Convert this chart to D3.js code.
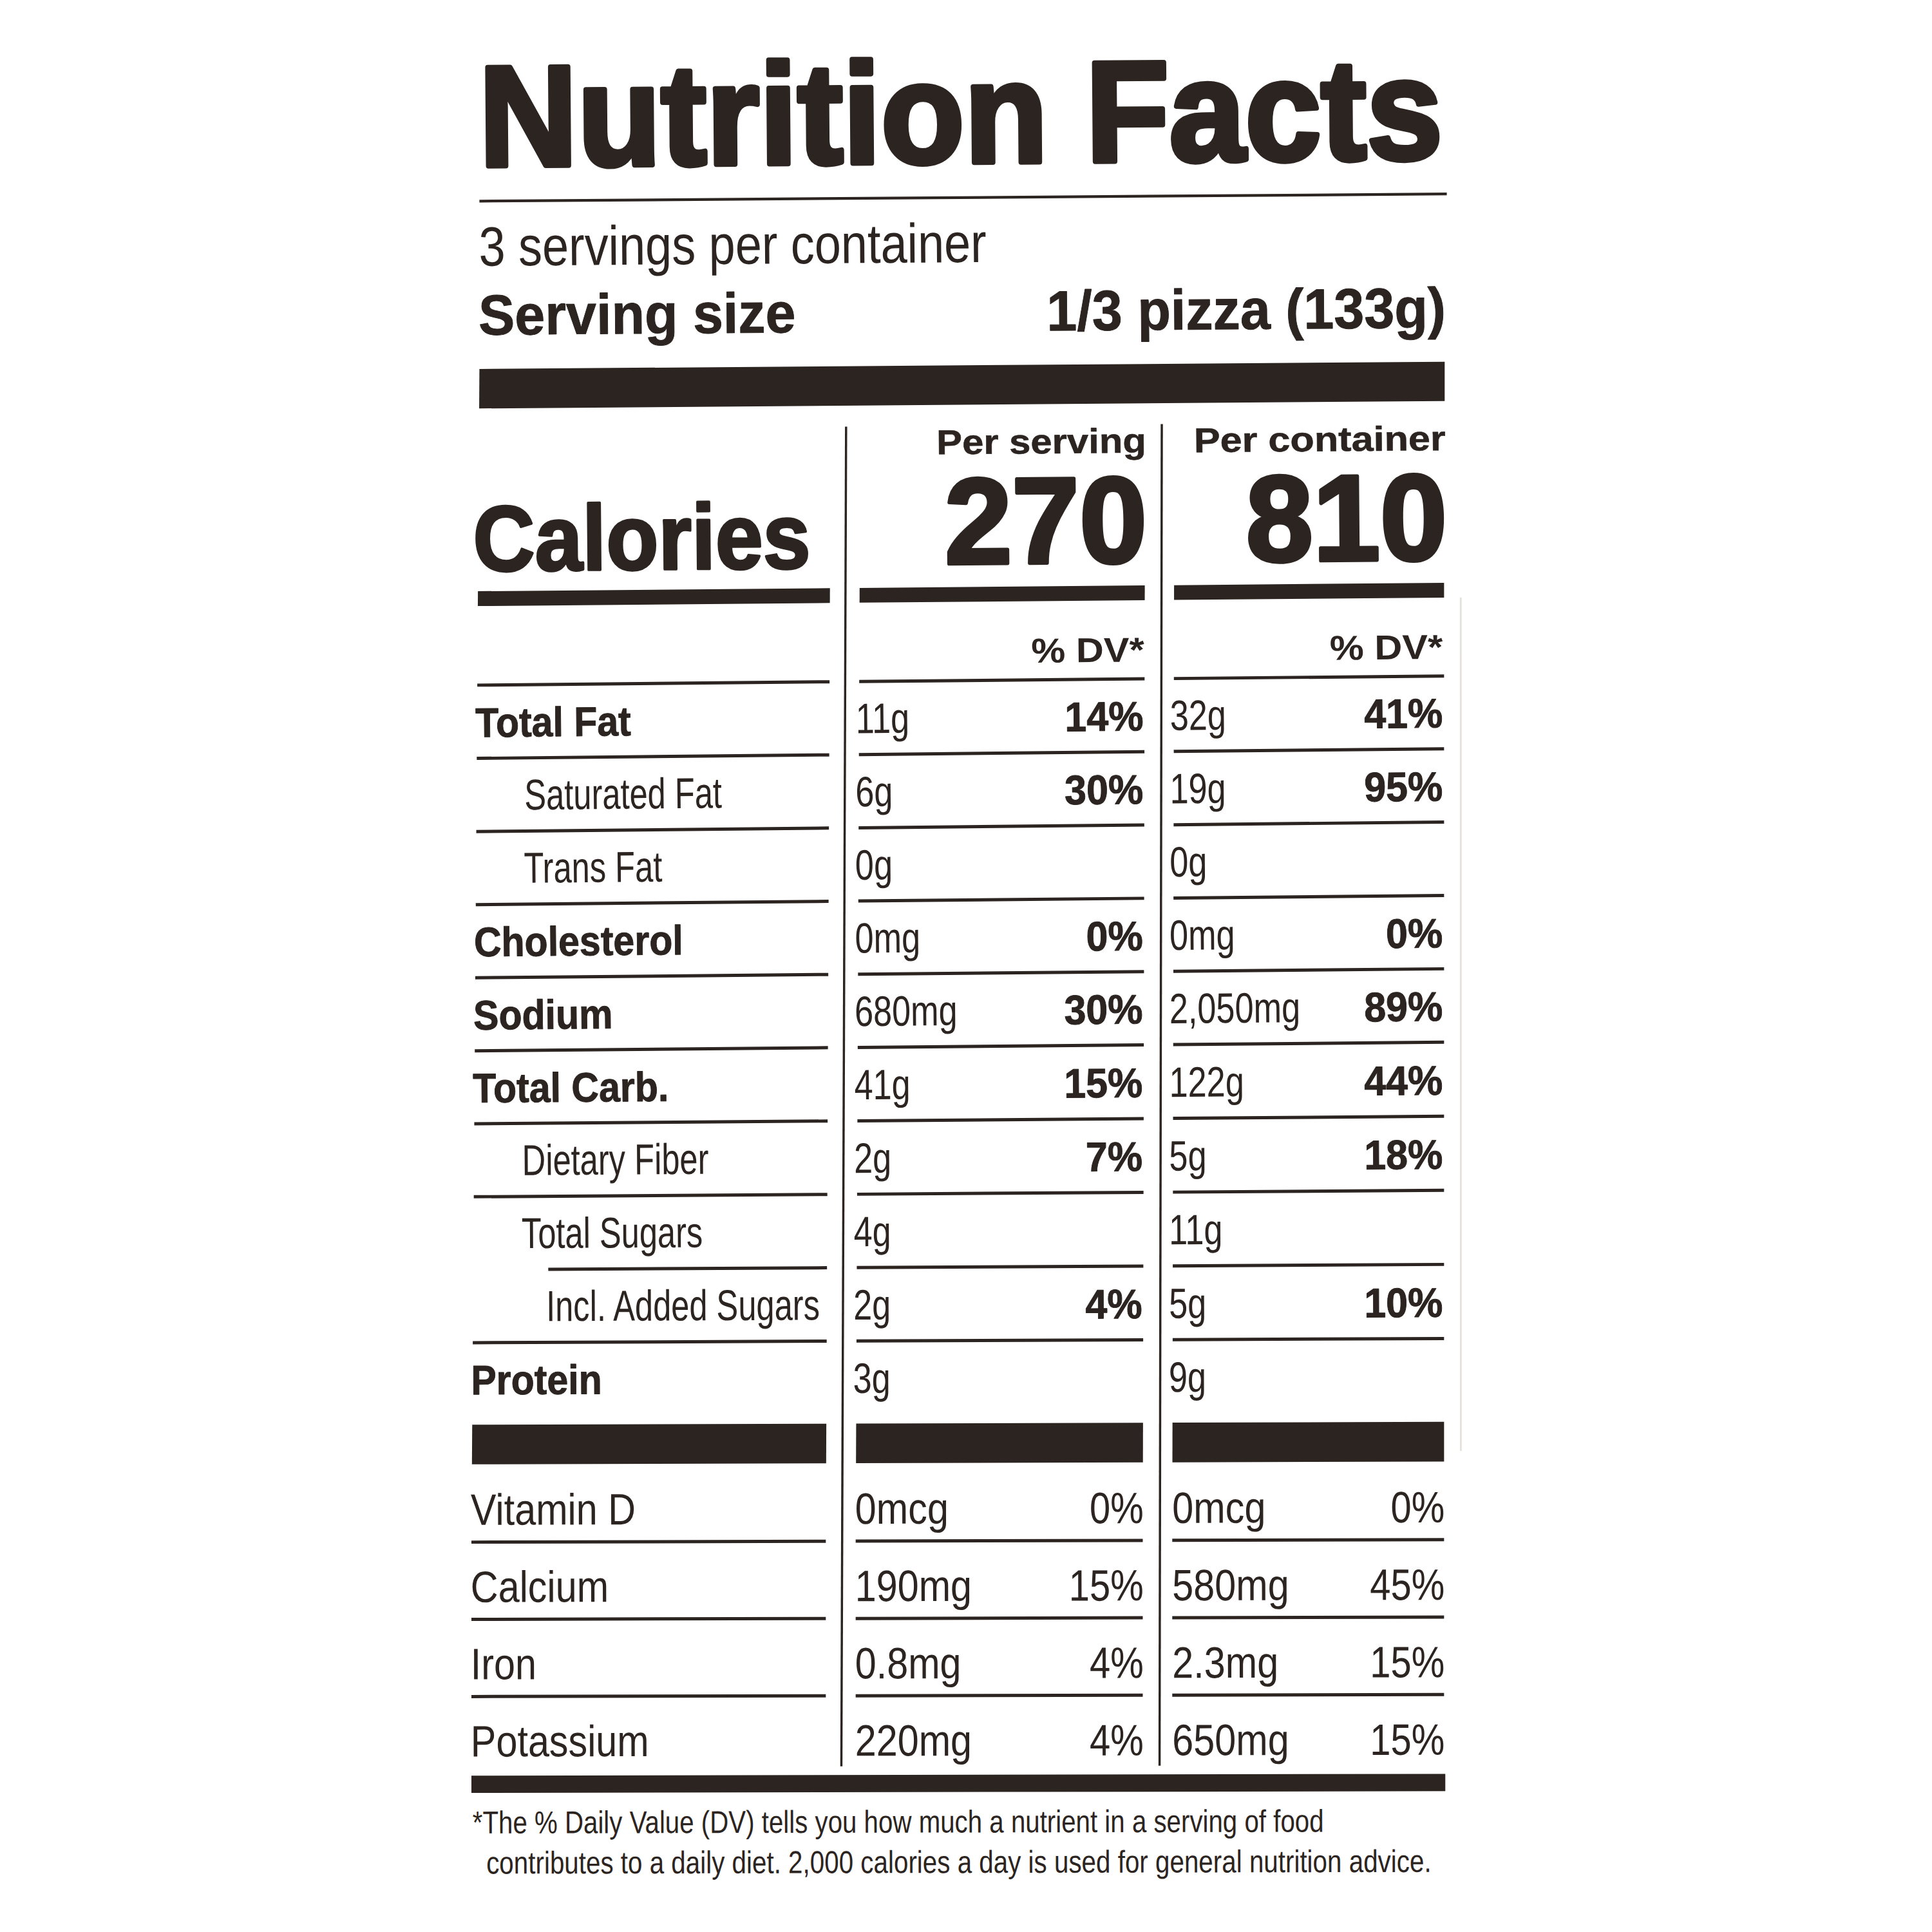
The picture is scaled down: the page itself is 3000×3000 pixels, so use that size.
<!DOCTYPE html>
<html>
<head>
<meta charset="utf-8">
<script src="https://cdn.jsdelivr.net/npm/d3@7/dist/d3.min.js"></script>
<style>html,body{margin:0;padding:0;background:#fff}</style>
</head>
<body>
<svg id="chart"></svg>
<script>
// ---------------- DATA ----------------
const title = "Nutrition Facts";
const servingsPerContainer = "3 servings per container";
const servingSizeLabel = "Serving size";
const servingSizeValue = "1/3 pizza (133g)";
const columnHeaders = ["Per serving", "Per container"];
const caloriesLabel = "Calories";
const calories = [270, 810];
const dvHeader = "% DV*";

const nutrients = ["Total Fat", "Saturated Fat", "Trans Fat", "Cholesterol", "Sodium",
                   "Total Carb.", "Dietary Fiber", "Total Sugars", "Incl. Added Sugars", "Protein"];
const nutrientLevel = [0, 1, 1, 0, 0, 0, 1, 1, 2, 0];
const perServingAmount = ["11g", "6g", "0g", "0mg", "680mg", "41g", "2g", "4g", "2g", "3g"];
const perServingDV = ["14%", "30%", "", "0%", "30%", "15%", "7%", "", "4%", ""];
const perContainerAmount = ["32g", "19g", "0g", "0mg", "2,050mg", "122g", "5g", "11g", "5g", "9g"];
const perContainerDV = ["41%", "95%", "", "0%", "89%", "44%", "18%", "", "10%", ""];

const vitamins = ["Vitamin D", "Calcium", "Iron", "Potassium"];
const vitServingAmount = ["0mcg", "190mg", "0.8mg", "220mg"];
const vitServingDV = ["0%", "15%", "4%", "4%"];
const vitContainerAmount = ["0mcg", "580mg", "2.3mg", "650mg"];
const vitContainerDV = ["0%", "45%", "15%", "15%"];

const footnote = [
  "*The % Daily Value (DV) tells you how much a nutrient in a serving of food",
  "contributes to a daily diet. 2,000 calories a day is used for general nutrition advice."
];

// ---------------- SETUP ----------------
const INK = "#2b2420";
const FONT = "'Liberation Sans', Arial, Helvetica, sans-serif";
const V = 1566;
const svg = d3.select("#chart").attr("width", 3000).attr("height", 3000)
  .attr("viewBox", `0 0 ${V} ${V}`);
svg.append("rect").attr("width", V).attr("height", V).attr("fill", "#fff");
const g = svg.append("g");

// slight photographic distortion of the label
const slope = d3.scaleLinear().domain([160, 300, 480, 600, 850, 1155, 1440])
  .range([-0.0074, -0.0075, -0.0087, -0.0100, -0.0090, -0.0030, -0.0018]).clamp(true);
const shift = d3.scaleLinear().domain([300, 1250]).range([0, -6.5]).clamp(true);
const RIGHT = 1171, SPAN = 783, PIVOT = 530;
function warp(x, y) { return [x + shift(y) * (RIGHT - x) / SPAN, y + slope(y) * (x - PIVOT)]; }
function ang(y) { return Math.atan(slope(y)) * 180 / Math.PI; }

function txt(str, x, y, o) {
  const p = warp(x, y);
  const t = g.append("text")
    .attr("transform", `translate(${p[0].toFixed(2)},${p[1].toFixed(2)}) rotate(${ang(y).toFixed(3)}) scale(${o.sx || 1},1)`)
    .attr("font-family", FONT).attr("font-size", o.size)
    .attr("font-weight", o.bold ? "bold" : "normal")
    .attr("text-anchor", o.anchor || "start").attr("fill", INK).text(str);
  if (o.len) t.attr("textLength", o.len).attr("lengthAdjust", "spacingAndGlyphs");
  if (o.stroke) t.attr("stroke", INK).attr("stroke-width", o.stroke).attr("stroke-linejoin", "round");
  return t;
}
function line(x1, y1, x2, y2, w, color) {
  const a = warp(x1, y1), b = warp(x2, y2);
  g.append("path").attr("d", `M${a[0]},${a[1]}L${b[0]},${b[1]}`)
    .attr("stroke", color || INK).attr("stroke-width", w).attr("fill", "none");
}
function bar(x0, y0, x1, y1) {
  const pts = [warp(x0, y0), warp(x1, y0), warp(x1, y1), warp(x0, y1)];
  g.append("path").attr("d", "M" + pts.map(p => p.join(",")).join("L") + "Z").attr("fill", INK);
}

// column layout
const col = {
  label: { x0: 388.6, x1: 673.5 },
  serving: { x0: 697.5, x1: 928.3, val: 695, dv: 927.5 },
  container: { x0: 952, x1: 1170.5, val: 949, dv: 1169.5 }
};
const indentX = [387.5, 427.5, 447.6];

// ---------------- HEADER ----------------
txt(title, 388.5, 133.5, { size: 116, bold: true, len: 781, stroke: 4.2 });
line(388.6, 162, 1172.7, 162, 2.2);
txt(servingsPerContainer, 388.2, 214.4, { size: 45, len: 411.5 });
txt(servingSizeLabel, 388, 270.3, { size: 46, bold: true, len: 257, stroke: 0.5 });
txt(servingSizeValue, 1172, 270.3, { size: 46, bold: true, anchor: "end", len: 323.5, stroke: 0.5 });
bar(388.6, 298, 1171, 330);

// vertical rules
line(686, 347, 686, 1432, 1.8);
line(941.8, 347, 941.8, 1432, 1.8);
line(1184, 490, 1184, 1178, 1.4, "#e4e0dc");

// calories block
txt(columnHeaders[0], 929.3, 370, { size: 28, bold: true, anchor: "end", len: 170, stroke: 0.3 });
txt(columnHeaders[1], 1171.8, 370, { size: 28, bold: true, anchor: "end", len: 204, stroke: 0.3 });
txt(caloriesLabel, 384.8, 461.5, { size: 75, bold: true, len: 273.5, stroke: 2 });
txt(String(calories[0]), 930.2, 459, { size: 99, bold: true, anchor: "end", len: 164, stroke: 3 });
txt(String(calories[1]), 1173.2, 459, { size: 99, bold: true, anchor: "end", len: 163, stroke: 3 });
bar(col.label.x0, 478, col.label.x1, 490);
bar(col.serving.x0, 478, col.serving.x1, 490);
bar(col.container.x0, 478, col.container.x1, 490);

txt(dvHeader, col.serving.dv + 0.5, 540, { size: 28, bold: true, anchor: "end", sx: 1.11 });
txt(dvHeader, col.container.dv, 540, { size: 28, bold: true, anchor: "end", sx: 1.11 });

// ---------------- NUTRIENT ROWS ----------------
const rowY = d3.scaleBand().domain(nutrients).range([554, 1147]);
const RW = 2.6;
// top rule
line(col.label.x0, rowY(nutrients[0]), col.label.x1, rowY(nutrients[0]), RW);
line(col.serving.x0, rowY(nutrients[0]), col.serving.x1, rowY(nutrients[0]), RW);
line(col.container.x0, rowY(nutrients[0]), col.container.x1, rowY(nutrients[0]), RW);

nutrients.forEach((n, i) => {
  const top = rowY(n), base = top + 42, lvl = nutrientLevel[i];
  if (lvl === 0) txt(n, indentX[0], base, { size: 33.5, bold: true, sx: 0.92, stroke: 0.5 });
  else txt(n, indentX[lvl], base, { size: 35, sx: 0.755 });
  txt(perServingAmount[i], col.serving.val, base, { size: 34.5, sx: 0.79 });
  if (perServingDV[i]) txt(perServingDV[i], col.serving.dv, base, { size: 33.5, bold: true, anchor: "end", sx: 0.95, stroke: 0.5 });
  txt(perContainerAmount[i], col.container.val, base, { size: 34.5, sx: 0.79 });
  if (perContainerDV[i]) txt(perContainerDV[i], col.container.dv, base, { size: 33.5, bold: true, anchor: "end", sx: 0.95, stroke: 0.5 });
  if (i < nutrients.length - 1) {
    const yb = top + rowY.bandwidth();
    const startX = nutrientLevel[i + 1] === 2 ? 449 : col.label.x0;
    line(startX, yb, col.label.x1, yb, RW);
    line(col.serving.x0, yb, col.serving.x1, yb, RW);
    line(col.container.x0, yb, col.container.x1, yb, RW);
  }
});

// thick separator
bar(col.label.x0, 1154.4, col.label.x1, 1186.5);
bar(col.serving.x0, 1154.4, col.serving.x1, 1186.5);
bar(col.container.x0, 1154.4, col.container.x1, 1186.5);

// ---------------- VITAMINS ----------------
const vitY = d3.scaleBand().domain(vitamins).range([1187, 1437.5]);
vitamins.forEach((v, i) => {
  const top = vitY(v), base = top + 48.6;
  txt(v, 388, base, { size: 35.6, sx: 0.87 });
  txt(vitServingAmount[i], 697, base, { size: 35.6, sx: 0.87 });
  txt(vitServingDV[i], 929, base, { size: 35.6, anchor: "end", sx: 0.85 });
  txt(vitContainerAmount[i], 952, base, { size: 35.6, sx: 0.87 });
  txt(vitContainerDV[i], 1171, base, { size: 35.6, anchor: "end", sx: 0.85 });
  if (i < vitamins.length - 1) {
    const yb = top + vitY.bandwidth();
    line(col.label.x0, yb, col.label.x1, yb, RW);
    line(col.serving.x0, yb, col.serving.x1, yb, RW);
    line(col.container.x0, yb, col.container.x1, yb, RW);
  }
});

bar(388.6, 1439, 1171.5, 1453);

// ---------------- FOOTNOTE ----------------
txt(footnote[0], 389.5, 1485.8, { size: 25.5, len: 690 });
txt(footnote[1], 400.6, 1518.5, { size: 25.5, len: 766 });
</script>
</body>
</html>
